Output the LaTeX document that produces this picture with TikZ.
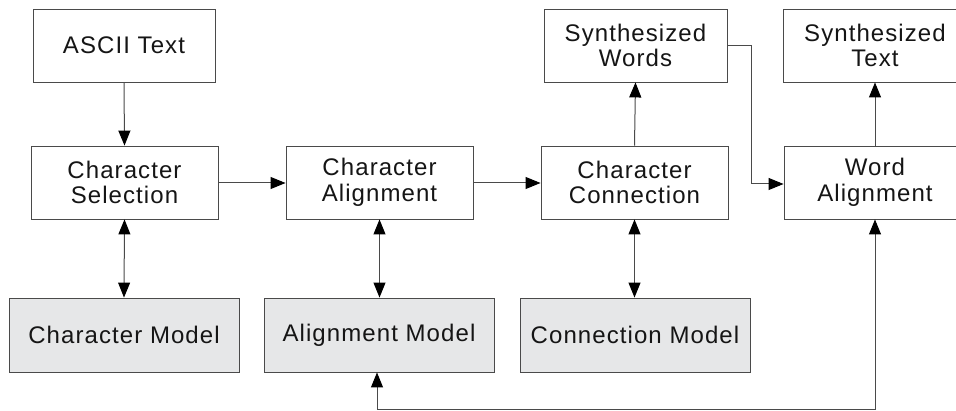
\documentclass[tikz,border=0pt]{standalone}
\usepackage{fontspec}
\setmainfont{Liberation Sans}[LetterSpace=4.5]
\usetikzlibrary{arrows.meta}
\definecolor{boxgray}{HTML}{E6E7E8}
\definecolor{linegray}{HTML}{4A4A4A}
\definecolor{txt}{HTML}{151515}
\tikzset{
  blk/.style={draw=linegray, line width=0.9pt, fill=white, inner sep=0pt, align=center,
    text=txt, font=\fontsize{24}{25.5}\selectfont},
  mdl/.style={blk, fill=boxgray},
  tipa/.tip={Triangle[length=15pt,width=12pt,color=black]},
  conn/.style={draw=linegray, line width=1pt, -tipa},
  bconn/.style={draw=linegray, line width=1pt, tipa-tipa}
}
\begin{document}
\begin{tikzpicture}[x=1pt,y=-1pt]
\useasboundingbox (0,0) rectangle (956,411);
\clip (0,0) rectangle (956,411);
% boxes: centre, width, height
\node[blk, minimum width=182pt, minimum height=73pt] (ascii) at (124,45.5) {ASCII Text};
\node[blk, minimum width=187pt, minimum height=73pt] (csel) at (124.5,182.5) {Character\\Selection};
\node[blk, minimum width=187pt, minimum height=73pt] (calign) at (379.5,182.5) {Character\\Alignment};
\node[blk, minimum width=183pt, minimum height=73pt] (sw) at (635.5,45.5) {Synthesized\\Words};
\node[blk, minimum width=187pt, minimum height=73pt] (cconn) at (634.5,182.5) {Character\\Connection};
\node[blk, minimum width=184pt, minimum height=73pt] (st) at (875,45.5) {Synthesized\\Text};
\node[blk, minimum width=182pt, minimum height=73pt] (walign) at (875,182.5) {Word\\Alignment};
\node[mdl, minimum width=230pt, minimum height=74pt] (cmodel) at (124,335) {Character Model};
\node[mdl, minimum width=230pt, minimum height=74pt] (amodel) at (379,335) {Alignment Model};
\node[mdl, minimum width=230pt, minimum height=74pt] (conmodel) at (635,335) {Connection Model};
\coordinate (b1) at (377,410);
\coordinate (b2) at (875,410);
\coordinate (k1) at (751,46);
\coordinate (k2) at (751,184);
% connectors
\draw[conn] (ascii.south) -- (csel.north);
\draw[conn] (csel.east |- 0,183) -- (calign.west |- 0,183);
\draw[conn] (calign.east |- 0,183) -- (cconn.west |- 0,183);
\draw[conn] (cconn.north) -- (sw.south);
\draw[conn] (sw.east |- k1) -- (k1) -- (k2) -- (walign.west |- k2);
\draw[conn] (walign.north) -- (st.south);
\draw[bconn] (csel.south) -- (cmodel.north);
\draw[bconn] (calign.south) -- (calign.south |- amodel.north);
\draw[bconn] (cconn.south) -- (cconn.south |- conmodel.north);
\draw[bconn] (amodel.south -| b1) -- (b1) -- (b2) -- (walign.south -| b2);
\end{tikzpicture}
\end{document}
